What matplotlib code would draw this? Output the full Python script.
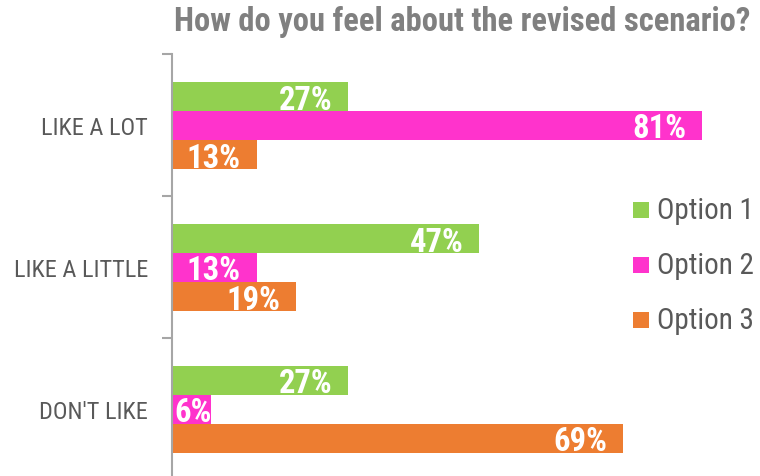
import matplotlib
matplotlib.use("Agg")
import matplotlib.pyplot as plt
from matplotlib.patches import Rectangle
import numpy as np

categories = ["LIKE A LOT", "LIKE A LITTLE", "DON'T LIKE"]
series_names = ["Option 1", "Option 2", "Option 3"]
option1 = [27, 47, 27]
option2 = [81, 13, 6]
option3 = [13, 19, 69]
colors = ["#92D050", "#FF33CC", "#ED7D31"]
title = "How do you feel about the revised scenario?"

COND = ["Roboto Condensed", "Liberation Sans", "DejaVu Sans"]

fig = plt.figure(figsize=(7.6, 4.77), dpi=100)
H = 477.0
W = 760.0
x0 = 171.5
top = 55.0
bottom = 481.0
pxpct = 6.55
ax = fig.add_axes([x0 / W, (H - bottom) / H, (W - x0) / W, (bottom - top) / H])

ax.set_xlim(0, (W - x0) / pxpct)
ax.set_ylim(2.5, -0.5)

bh = 29.0 / 142.0
y = np.arange(len(categories))
series = [option1, option2, option3]
for i, (vals, c) in enumerate(zip(series, colors)):
    pos = y + (i - 1) * bh
    ax.barh(pos, vals, height=bh, color=c, label=series_names[i])
    for p, v in zip(pos, vals):
        if v >= 10:
            ax.text(v - 16 / pxpct, p, f"{v}%", ha="right", va="center_baseline",
                    color="white", fontsize=23.5, fontweight="bold", family=COND)
        else:
            ax.text(3 / pxpct, p, f"{v}%", ha="left", va="center_baseline",
                    color="white", fontsize=23.5, fontweight="bold", family=COND)

for s in ["top", "right", "bottom"]:
    ax.spines[s].set_visible(False)
ax.spines["left"].set_color("#A6A6A6")
ax.spines["left"].set_linewidth(1.5)
ax.set_xticks([])
ax.set_yticks([-0.5, 0.5, 1.5, 2.5])
ax.set_yticklabels([])
ax.tick_params(axis="y", length=7, width=1.5, color="#A6A6A6")
ax.set_yticks(y, minor=True)
ax.set_yticklabels(categories, minor=True, fontsize=17.5, color="#595959", family=COND)
ax.tick_params(axis="y", which="minor", length=0, pad=17)

fig.text(462 / W, 1 - 22 / H, title, ha="center", va="center", fontsize=23.5,
         fontweight="bold", color="#808080", family=COND)

# legend
leg_y = [211, 266, 321]
for name, c, ly in zip(series_names, colors, leg_y):
    fig.patches.append(Rectangle((633 / W, 1 - (ly + 8) / H), 16 / W, 16 / H,
                                 transform=fig.transFigure, facecolor=c, edgecolor="none"))
    fig.text(657 / W, 1 - ly / H, name, ha="left", va="center", fontsize=21,
             color="#595959", family=COND)

fig.savefig("out.png", dpi=100)
